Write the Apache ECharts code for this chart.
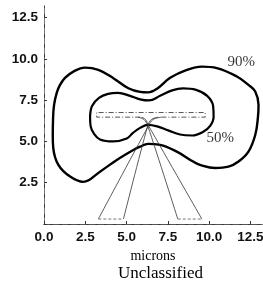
<!DOCTYPE html>
<html>
<head>
<meta charset="utf-8">
<script src="https://cdn.jsdelivr.net/npm/echarts@6/dist/echarts.min.js"></script>
<style>
  html, body { margin: 0; padding: 0; background: #fff; }
  #chart { width: 263px; height: 283px; }
</style>
</head>
<body>
<div id="chart"></div>
<script>
// tick labels
const xTickLabels = ['0.0', '2.5', '5.0', '7.5', '10.0', '12.5'];
const yTickLabels = ['2.5', '5.0', '7.5', '10.0', '12.5'];

// 90% contour (x, y in microns)
const contour90 = [
  [0.55, 6.42], [0.61, 7.21], [0.77, 7.94], [0.97, 8.42], [1.27, 8.85],
  [1.78, 9.23], [2.48, 9.47], [3.29, 9.33], [4.20, 8.83], [5.11, 8.22],
  [5.82, 8.00], [6.30, 7.97], [6.91, 8.24], [7.64, 8.85], [8.65, 9.33],
  [9.56, 9.53], [10.47, 9.44], [11.68, 8.93], [12.38, 8.42], [12.79, 8.02],
  [12.99, 7.21], [12.95, 6.42], [12.79, 5.39], [12.38, 4.38], [11.78, 3.78],
  [11.17, 3.47], [10.36, 3.39], [9.45, 3.58], [9.03, 3.78], [8.04, 4.38],
  [7.03, 4.79], [6.30, 4.85], [5.82, 4.68], [5.41, 4.48], [4.41, 3.88],
  [3.39, 3.17], [2.38, 2.55], [1.58, 2.87], [0.87, 3.58], [0.56, 4.61],
  [0.53, 5.39], [0.55, 6.42]
];

// 50% contour
const contour50 = [
  [2.79, 6.48], [2.91, 7.15], [3.33, 7.64], [3.88, 7.88], [4.48, 7.94],
  [5.21, 7.76], [5.82, 7.55], [6.36, 7.48], [7.03, 7.76], [7.76, 8.09],
  [8.42, 8.21], [9.21, 8.12], [9.88, 7.76], [10.24, 7.15], [10.27, 6.48],
  [10.06, 5.94], [9.64, 5.58], [8.97, 5.36], [8.24, 5.42], [7.52, 5.67],
  [6.85, 5.91], [6.30, 6.00], [5.82, 5.82], [5.39, 5.52], [5.01, 5.18],
  [4.18, 5.00], [3.39, 5.12], [3.03, 5.45], [2.82, 5.94], [2.79, 6.48]
];

// beam outline (open at the bottom middle)
const beamOutline = [
  [5.82, 6.47], [3.19, 6.47], [3.19, 6.75], [9.76, 6.75], [9.76, 6.47], [7.03, 6.47]
];

// fan lines from beam down to the bottom
const fanLines = [
  [[5.70, 6.47], [6.05, 6.33], [6.28, 5.95], [8.10, 0.30]],
  [[5.90, 6.47], [6.15, 6.33], [6.33, 5.95], [9.56, 0.30]],
  [[7.10, 6.47], [6.60, 6.33], [6.33, 5.95], [3.29, 0.30]],
  [[6.90, 6.47], [6.50, 6.33], [6.28, 5.95], [4.81, 0.30]]
];
const footLines = [
  [[3.29, 0.30], [4.81, 0.30]],
  [[8.10, 0.30], [9.56, 0.30]]
];

// contour labels
const contourLabels = [
  { name: '90%', value: [11.94, 9.80] },
  { name: '50%', value: [10.67, 5.21] }
];

const chart = echarts.init(document.getElementById('chart'));

const thin = { color: '#333', width: 0.8 };

const series = [
  {
    type: 'line', data: contour90, smooth: 0.4, symbol: 'none',
    lineStyle: { color: '#000', width: 2.4 }
  },
  {
    type: 'line', data: contour50, smooth: 0.4, symbol: 'none',
    lineStyle: { color: '#000', width: 2.2 }
  },
  {
    type: 'line', data: beamOutline, symbol: 'none',
    lineStyle: { color: '#444', width: 0.9, type: [5, 2, 1, 2] }
  }
];
fanLines.forEach(function (d) {
  series.push({ type: 'line', data: d, smooth: 0.3, symbol: 'none', lineStyle: thin });
});
footLines.forEach(function (d) {
  series.push({ type: 'line', data: d, symbol: 'none', lineStyle: { color: '#555', width: 0.8, type: [3, 2] } });
});
series.push({
  type: 'scatter', data: contourLabels, symbolSize: 1,
  itemStyle: { color: 'rgba(0,0,0,0)' },
  label: {
    show: true, position: 'inside', formatter: '{b}',
    fontFamily: 'Liberation Serif', fontSize: 15, color: '#000'
  }
});

const pick = function (labels) {
  return function (v) {
    const s = v.toFixed(1);
    return labels.indexOf(s) >= 0 ? s : '';
  };
};

chart.setOption({
  animation: false,
  grid: { left: 44, top: 6, width: 218, height: 218, outerBoundsMode: 'none', containLabel: false },
  xAxis: [
    {
      type: 'value', min: 0, max: 13.2, interval: 2.5,
      name: 'microns', nameLocation: 'middle', nameGap: 16,
      nameTextStyle: { fontFamily: 'Liberation Serif', fontSize: 14, color: '#000' },
      axisLine: { lineStyle: { color: '#333', width: 1 } },
      axisTick: { show: true, inside: true, length: 3, lineStyle: { color: '#333' } },
      axisLabel: {
        formatter: pick(xTickLabels), margin: 6, showMaxLabel: false,
        fontFamily: 'Liberation Sans', fontWeight: 'bold', fontSize: 13.5, color: '#111'
      },
      splitLine: { show: false }
    },
    {
      type: 'value', min: 0, max: 13.2, position: 'top',
      axisLine: { show: true, lineStyle: { color: '#555', width: 1, type: [6, 3] } },
      axisTick: { show: false }, axisLabel: { show: false }, splitLine: { show: false }
    }
  ],
  yAxis: [
    {
      type: 'value', min: 0, max: 13.2, interval: 2.5,
      axisLine: { show: true, lineStyle: { color: '#333', width: 1 } },
      axisTick: { show: true, inside: true, length: 3, lineStyle: { color: '#333' } },
      axisLabel: {
        formatter: pick(yTickLabels), margin: 6, showMaxLabel: false,
        fontFamily: 'Liberation Sans', fontWeight: 'bold', fontSize: 13.5, color: '#111'
      },
      splitLine: { show: false }
    },
    {
      type: 'value', min: 0, max: 13.2, position: 'right',
      axisLine: { show: true, lineStyle: { color: '#777', width: 1, type: [6, 4] } },
      axisTick: { show: false }, axisLabel: { show: false }, splitLine: { show: false }
    }
  ],
  graphic: [
    {
      type: 'text', left: 118, top: 265,
      style: { text: 'Unclassified', fontFamily: 'Liberation Serif', fontSize: 17, fill: '#000' }
    }
  ],
  series: series
});
</script>
</body>
</html>
